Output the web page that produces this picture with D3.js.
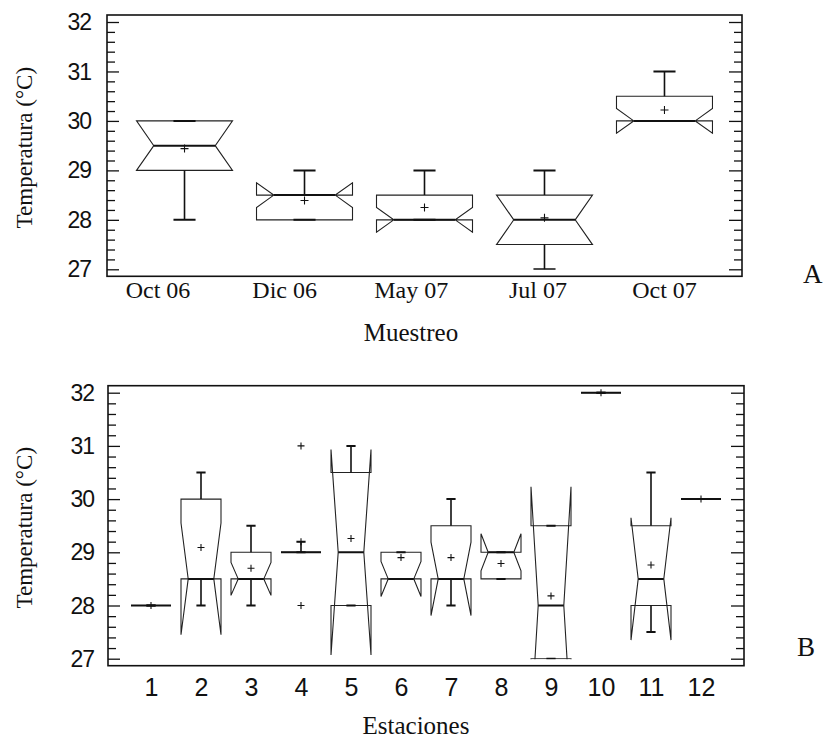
<!DOCTYPE html>
<html>
<head>
<meta charset="utf-8">
<script src="https://cdn.jsdelivr.net/npm/d3@7"></script>
<style>
  body { margin: 0; background: #fff; }
  svg { display: block; }
</style>
</head>
<body>
<svg id="chart" width="826" height="739"></svg>
<script>
// ---- Panel A: water temperature per sampling campaign ----
const samplings = ["Oct 06", "Dic 06", "May 07", "Jul 07", "Oct 07"];
const minA    = [28,    28,    28,    27,    30];
const q1A     = [29,    28,    28,    27.5,  30];
const medianA = [29.5,  28.5,  28,    28,    30];
const q3A     = [30,    28.5,  28.5,  28.5,  30.5];
const maxA    = [30,    29,    29,    29,    31];
const meanA   = [29.44, 28.39, 28.25, 28.04, 30.22];
const notchA  = [0.5,   0.25,  0.25,  0.5,   0.25];   // half-width of the median notch

// ---- Panel B: water temperature per station ----
const stations = ["1","2","3","4","5","6","7","8","9","10","11","12"];
const minB    = [28, 28,    28,   29,  28,    28.5, 28,   28.5,  27,    32, 27.5,  30];
const q1B     = [28, 28.5,  28.5, 29,  28,    28.5, 28.5, 28.5,  27,    32, 28,    30];
const medianB = [28, 28.5,  28.5, 29,  29,    28.5, 28.5, 29,    28,    32, 28.5,  30];
const q3B     = [28, 30,    29,   29,  30.5,  29,   29.5, 29,    29.5,  32, 29.5,  30];
const maxB    = [28, 30.5,  29.5, 29.2,31,    29,   30,   29,    29.5,  32, 30.5,  30];
const meanB   = [28, 29.09, 28.7, 29.2,29.26, 28.9, 28.9, 28.79, 28.18, 32, 28.76, 30];
const notchB  = [0,  1.05,  0.31, 0,   1.93,  0.33, 0.69, 0.35,  2.23,  0,  1.15,  0];
const outlierStations = ["4", "4"];
const outlierValues   = [31, 28];

const yMajorTicks = [27, 28, 29, 30, 31, 32];
const yMinorTicks = d3.range(27, 32.001, 0.2).filter(v => Math.abs(v - Math.round(v)) > 1e-6);

const svg = d3.select("#chart");
const INK = "#111";

function makeBoxes(cats, mins, q1s, meds, q3s, maxs, means, notches) {
  return cats.map((c, i) => ({
    cat: c, min: mins[i], q1: q1s[i], med: meds[i], q3: q3s[i],
    max: maxs[i], mean: means[i], notch: notches[i]
  }));
}

function drawPanel(cfg) {
  const { left, right, yTop, yBottom, cats, boxes, pad, labelScale, id } = cfg;

  // value axis: 27..32 occupies the frame minus a small margin
  const y = d3.scaleLinear().domain([27, 32]).range([yBottom, yTop]);
  const frameTop = yTop - 7, frameBottom = yBottom + 7;

  const x = d3.scalePoint().domain(cats).range([left, right]).padding(pad);
  const step = x.step();
  const w = step * 0.8;
  const capW = w * 0.23;
  const plus = cfg.plus;

  const g = svg.append("g");

  // clip for the notched boxes (notches stop at the lowest axis value)
  g.append("clipPath").attr("id", id)
    .append("rect")
    .attr("x", left).attr("y", frameTop)
    .attr("width", right - left).attr("height", y(27) - frameTop + 0.5);

  // left axis: major ticks with labels, minor ticks without
  const axL = g.append("g").attr("transform", `translate(${left},0)`)
    .call(d3.axisLeft(y).tickValues(yMajorTicks).tickSize(-12).tickPadding(cfg.labelGap).tickFormat(d3.format("d")));
  g.append("g").attr("transform", `translate(${left},0)`)
    .call(d3.axisLeft(y).tickValues(yMinorTicks).tickSize(-8).tickFormat(""));
  // right axis, ticks only
  g.append("g").attr("transform", `translate(${right},0)`)
    .call(d3.axisRight(y).tickValues(yMajorTicks).tickSize(-13).tickFormat(""));
  g.append("g").attr("transform", `translate(${right},0)`)
    .call(d3.axisRight(y).tickValues(yMinorTicks).tickSize(-8).tickFormat(""));

  g.selectAll(".domain").remove();
  g.selectAll(".tick line").attr("stroke", INK).attr("stroke-width", 1.3);
  axL.selectAll(".tick text")
    .attr("font-family", "'Liberation Sans', Arial, sans-serif")
    .attr("font-size", 23).attr("letter-spacing", -1)
    .attr("fill", INK).attr("dy", "0.33em");

  // category labels along the bottom
  const axB = g.append("g").attr("transform", `translate(0,${frameBottom})`)
    .call(d3.axisBottom(labelScale).tickSize(0));
  axB.select(".domain").remove();
  axB.selectAll(".tick text")
    .attr("font-family", cfg.catFont).attr("font-size", cfg.catSize)
    .attr("fill", INK).attr("y", cfg.catBaseline).attr("dy", 0);

  // boxes
  const bx = g.append("g").attr("clip-path", `url(#${id})`);
  boxes.forEach(b => {
    const cx = x(b.cat), L = cx - w / 2, R = cx + w / 2;
    const d = b.notch > 0 ? w * 0.18 : 0;
    const pts = [
      [L, y(b.q1)], [L, y(b.med - b.notch)], [L + d, y(b.med)], [L, y(b.med + b.notch)],
      [L, y(b.q3)], [R, y(b.q3)], [R, y(b.med + b.notch)], [R - d, y(b.med)],
      [R, y(b.med - b.notch)], [R, y(b.q1)]
    ];
    bx.append("path")
      .attr("d", d3.line()(pts) + "Z")
      .attr("fill", "none").attr("stroke", "#222").attr("stroke-width", 1.1)
      .attr("stroke-linejoin", "miter");

    // whiskers
    [[b.q3, b.max], [b.q1, b.min]].forEach(([from, to]) => {
      if (to !== from) {
        bx.append("line").attr("x1", cx).attr("x2", cx)
          .attr("y1", y(from)).attr("y2", y(to))
          .attr("stroke", INK).attr("stroke-width", 1.6);
      }
      bx.append("line").attr("x1", cx - capW / 2).attr("x2", cx + capW / 2)
        .attr("y1", y(to)).attr("y2", y(to))
        .attr("stroke", INK).attr("stroke-width", 2);
    });

    // median
    bx.append("line").attr("x1", L + d).attr("x2", R - d)
      .attr("y1", y(b.med)).attr("y2", y(b.med))
      .attr("stroke", INK).attr("stroke-width", 2);

    // mean marker
    drawPlus(bx, cx, y(b.mean), plus);
  });

  // outlying points
  (cfg.outliers || []).forEach(o => drawPlus(g, x(o.cat), y(o.value), plus));

  // frame
  g.append("rect")
    .attr("x", left).attr("y", frameTop)
    .attr("width", right - left).attr("height", frameBottom - frameTop)
    .attr("fill", "none").attr("stroke", INK).attr("stroke-width", 1.6);

  // axis titles
  g.append("text")
    .attr("transform", `translate(32,${(frameTop + frameBottom) / 2 + 2}) rotate(-90)`)
    .attr("text-anchor", "middle")
    .attr("font-family", "'Liberation Serif', 'Times New Roman', serif")
    .attr("font-size", 23).attr("fill", INK)
    .text("Temperatura (°C)");

  g.append("text")
    .attr("x", cfg.titleX).attr("y", cfg.titleY)
    .attr("text-anchor", "middle")
    .attr("font-family", "'Liberation Serif', 'Times New Roman', serif")
    .attr("font-size", 25).attr("fill", INK)
    .text(cfg.title);

  g.append("text")
    .attr("x", cfg.tagX).attr("y", cfg.tagY)
    .attr("font-family", "'Liberation Serif', 'Times New Roman', serif")
    .attr("font-size", 27).attr("fill", INK)
    .text(cfg.tag);
}

function drawPlus(sel, cx, cy, s) {
  sel.append("path")
    .attr("d", `M${cx - s / 2},${cy}H${cx + s / 2}M${cx},${cy - s / 2}V${cy + s / 2}`)
    .attr("stroke", INK).attr("stroke-width", 1.1).attr("fill", "none");
}

// Panel A
drawPanel({
  id: "clipA",
  left: 107, right: 742, yTop: 22, yBottom: 269.3,
  cats: samplings, pad: 0.646,
  boxes: makeBoxes(samplings, minA, q1A, medianA, q3A, maxA, meanA, notchA),
  labelScale: d3.scalePoint().domain(samplings).range([157.5, 664]),
  labelGap: 16,
  catFont: "'Liberation Serif', 'Times New Roman', serif", catSize: 24, catBaseline: 22,
  plus: 8,
  title: "Muestreo", titleX: 411, titleY: 341,
  tag: "A", tagX: 803, tagY: 283
});

// Panel B
drawPanel({
  id: "clipB",
  left: 108, right: 744, yTop: 392.7, yBottom: 658.7,
  cats: stations, pad: 0.86,
  boxes: makeBoxes(stations, minB, q1B, medianB, q3B, maxB, meanB, notchB),
  labelScale: d3.scalePoint().domain(stations).range([108, 744]).padding(0.86),
  labelGap: 14,
  catFont: "'Liberation Sans', Arial, sans-serif", catSize: 25, catBaseline: 30.5,
  plus: 7,
  outliers: outlierStations.map((c, i) => ({ cat: c, value: outlierValues[i] })),
  title: "Estaciones", titleX: 416, titleY: 734,
  tag: "B", tagX: 797, tagY: 656
});
</script>
</body>
</html>
